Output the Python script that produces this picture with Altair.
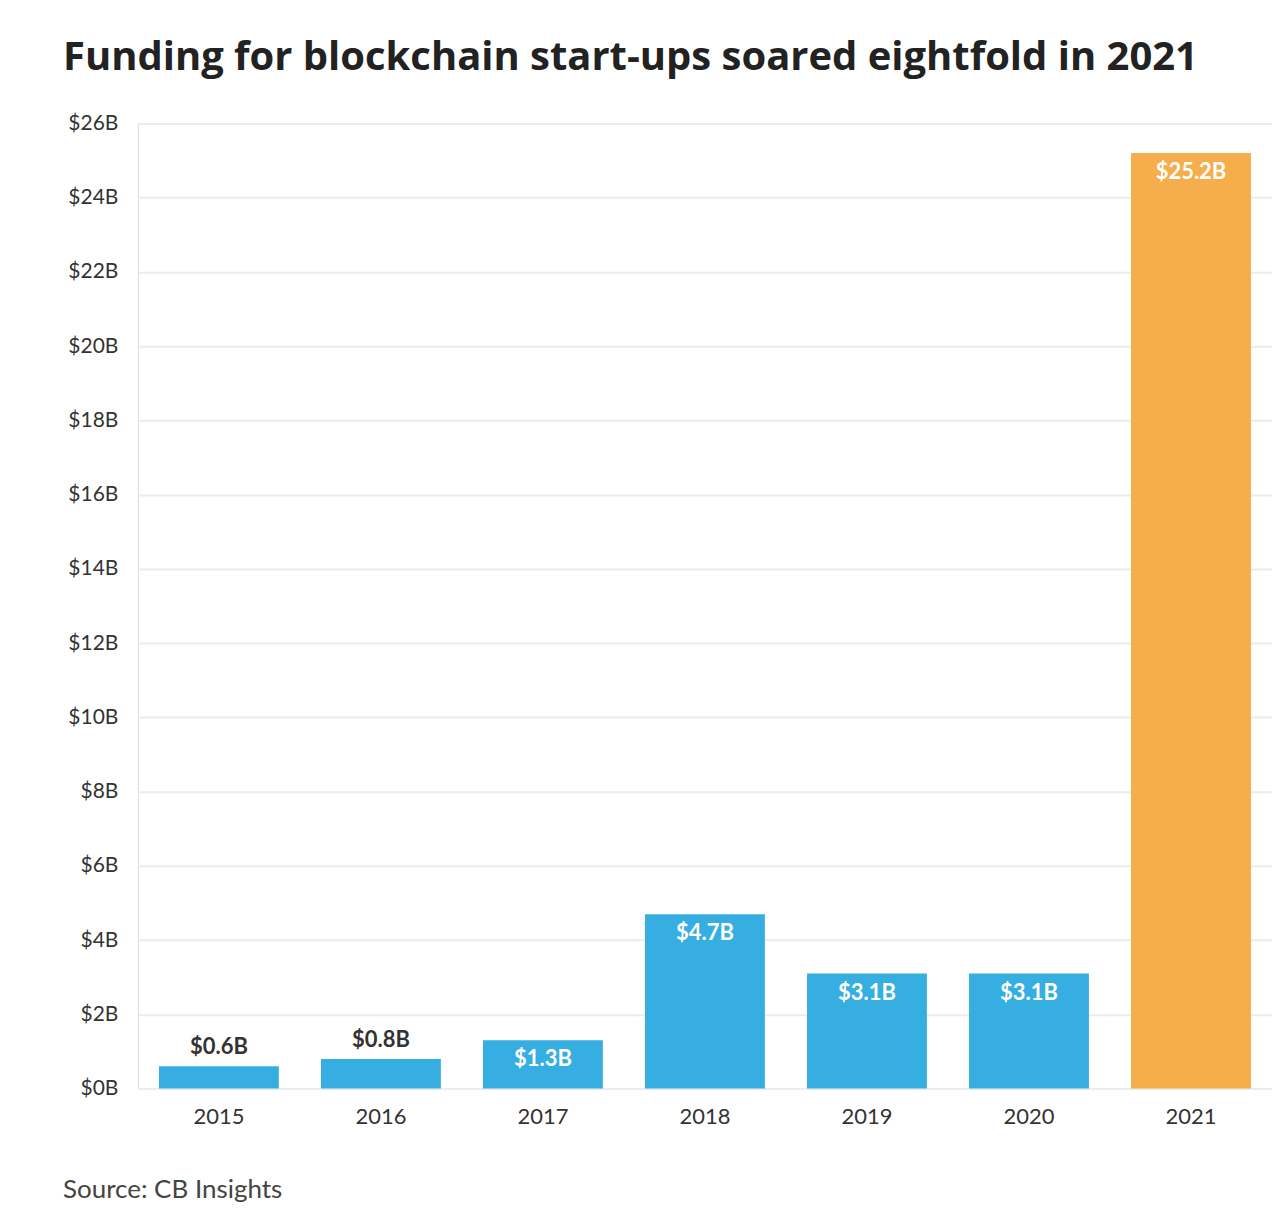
import altair as alt
import pandas as pd

years = ["2015", "2016", "2017", "2018", "2019", "2020", "2021"]
values = [0.6, 0.8, 1.3, 4.7, 3.1, 3.1, 25.2]
labels = ["$0.6B", "$0.8B", "$1.3B", "$4.7B", "$3.1B", "$3.1B", "$25.2B"]
groups = ["past", "past", "past", "past", "past", "past", "latest"]
y_ticks = list(range(0, 27, 2))

df = pd.DataFrame({"year": years, "value": values, "label": labels, "group": groups})
df["inside"] = df["value"] >= 1.0

W, H = 1135, 966

x = alt.X("year:N", sort=years, title=None,
          scale=alt.Scale(paddingInner=0.26, paddingOuter=0.13),
          axis=alt.Axis(labelAngle=0, ticks=False, domain=False, labelPadding=18,
                        labelFontSize=22, labelColor="#333333", labelFont="Lato"))
y = alt.Y("value:Q", title=None,
          scale=alt.Scale(domain=[0, 26], nice=False),
          axis=alt.Axis(values=y_ticks, labelExpr="'$' + datum.value + 'B'",
                        ticks=False, domain=False, labelPadding=20,
                        labelFontSize=21, labelColor="#333333", labelFont="Lato",
                        gridColor="#ececec", gridWidth=2))

bars = alt.Chart(df).mark_bar().encode(
    x=x, y=y,
    color=alt.Color("group:N", scale=alt.Scale(domain=["past", "latest"],
                                               range=["#36aee2", "#f6ad4b"]), legend=None),
)

out_labels = alt.Chart(df).transform_filter("!datum.inside").mark_text(
    baseline="bottom", dy=-7, fontSize=22, fontWeight="bold", font="Lato", color="#333333"
).encode(x=alt.X("year:N", sort=years), y="value:Q", text="label:N")

in_labels = alt.Chart(df).transform_filter("datum.inside").mark_text(
    baseline="top", dy=9, fontSize=22, fontWeight="bold", font="Lato", color="#ffffff"
).encode(x=alt.X("year:N", sort=years), y="value:Q", text="label:N")

source = alt.Chart(df).transform_filter("datum.year == '2015'").mark_text(
    align="left", baseline="middle", fontSize=26, font="Lato", color="#444444", text="Source: CB Insights"
).encode(x=alt.value(-75), y=alt.value(H + 101))

chart = alt.layer(bars, out_labels, in_labels, source).properties(
    width=W, height=H,
    autosize=alt.AutoSizeParams(type="none"),
    padding={"left": 130, "top": 115, "right": 0, "bottom": 115},
    title=alt.TitleParams("Funding for blockchain start-ups soared eightfold in 2021",
                          anchor="start", frame="group", dx=-75, dy=-30,
                          fontSize=40, font="Open Sans", fontWeight="bold", color="#222222"),
).configure_view(stroke=None).configure(background="#ffffff")

chart.save("out.html", embed_options={"renderer": "svg", "actions": False})
